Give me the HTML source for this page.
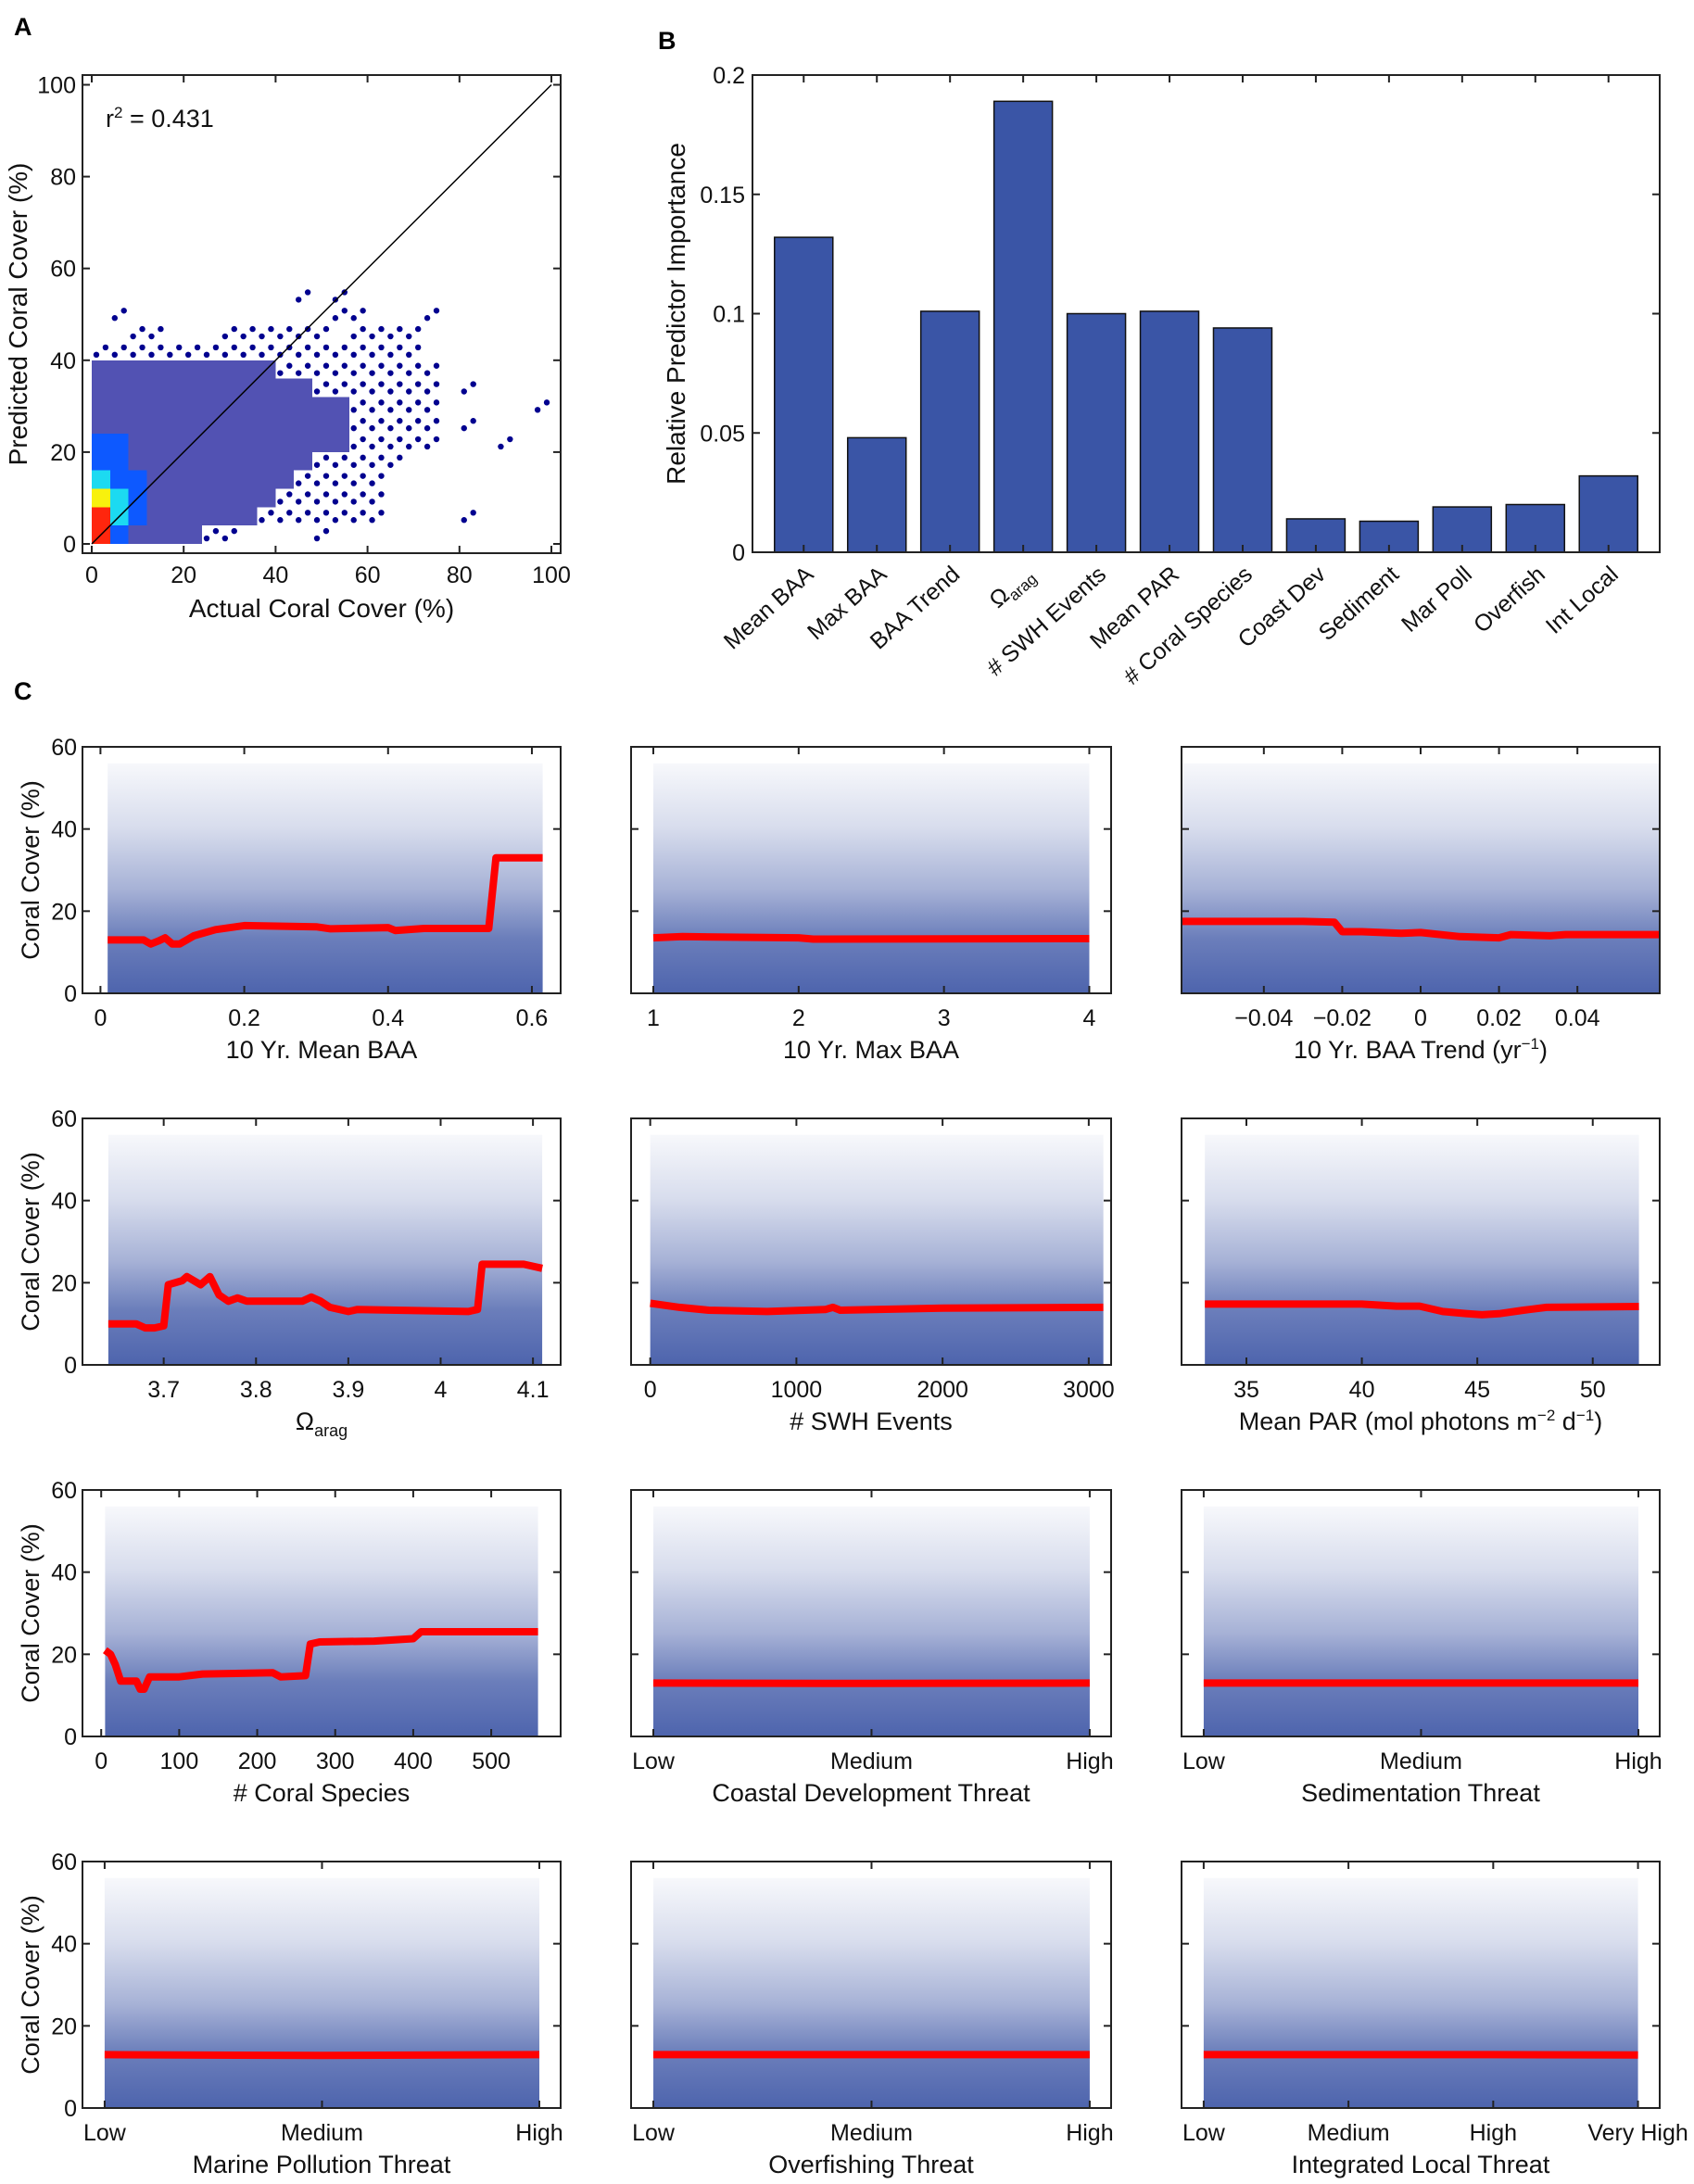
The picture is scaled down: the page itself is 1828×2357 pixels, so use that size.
<!DOCTYPE html>
<html><head><meta charset="utf-8">
<style>
html,body{margin:0;padding:0;background:#fff;}
svg{display:block;font-family:"Liberation Sans",Arial,sans-serif;}
</style></head>
<body>
<svg id="fig" width="1828" height="2357" viewBox="0 0 1828 2357" xmlns="http://www.w3.org/2000/svg">
<defs>
<linearGradient id="band" x1="0" y1="0" x2="0" y2="1">
<stop offset="0" stop-color="#3a53a4" stop-opacity="0.04"/>
<stop offset="0.28" stop-color="#3a53a4" stop-opacity="0.2"/>
<stop offset="0.55" stop-color="#3a53a4" stop-opacity="0.45"/>
<stop offset="0.76" stop-color="#3a53a4" stop-opacity="0.75"/>
<stop offset="1" stop-color="#3a53a4" stop-opacity="0.9"/>
</linearGradient>
</defs>
<text x="15" y="38" font-size="27" font-weight="bold">A</text>
<text x="710" y="53" font-size="27" font-weight="bold">B</text>
<text x="15" y="755" font-size="27" font-weight="bold">C</text>
<g id="gA"></g>
<g id="gB"></g>
<g id="gC"></g>
</svg>
<script>
// ---------- Panel A data: binned density (rows top y52-56 -> bottom y0-4, cols x 0..100 step 4)
const densityRows = [
"0000000000010100000000000",
"0100000000000110001000000",
"0011000111111011110000000",
"1111111111111111110000000",
"2222222222111111111000000",
"2222222222221111111010000",
"2222222222222211111000001",
"2222222222222211111010000",
"3322222222222211111000100",
"3322222222221111100000000",
"4332222222211111000000000",
"5432222222111111000000000",
"6432222221111111000010000",
"6322221100001000000000000"];
const scatterTicks = [0,20,40,60,80,100];
const r2Value = "0.431";

// ---------- Panel B data
const barCategories = ["Mean BAA","Max BAA","BAA Trend","Ωarag","# SWH Events","Mean PAR","# Coral Species","Coast Dev","Sediment","Mar Poll","Overfish","Int Local"];
const barValues = [0.132,0.048,0.101,0.189,0.100,0.101,0.094,0.014,0.013,0.019,0.020,0.032];
const barTicks = [0,0.05,0.1,0.15,0.2];
const barTickLabels = ["0","0.05","0.1","0.15","0.2"];

// ---------- Panel C data
const meanBaaX = [0.01,0.06,0.07,0.08,0.09,0.10,0.11,0.13,0.16,0.2,0.3,0.32,0.4,0.41,0.45,0.54,0.55,0.615];
const meanBaaY = [13,13,12,12.7,13.5,12,12,14,15.5,16.5,16.2,15.7,16,15.3,15.8,15.8,33,33];
const maxBaaX = [1,1.2,2,2.1,4];
const maxBaaY = [13.5,13.8,13.5,13.2,13.3];
const trendX = [-0.061,-0.03,-0.022,-0.02,-0.015,-0.005,0,0.01,0.02,0.023,0.033,0.037,0.061];
const trendY = [17.5,17.5,17.3,15,15,14.6,14.8,13.8,13.5,14.3,14,14.3,14.3];
const aragX = [3.64,3.67,3.68,3.69,3.7,3.705,3.72,3.725,3.74,3.75,3.76,3.77,3.78,3.79,3.85,3.86,3.87,3.88,3.9,3.91,4.03,4.04,4.045,4.09,4.11];
const aragY = [10,10,9,9,9.5,19.5,20.5,21.5,19.5,21.5,17,15.5,16.3,15.5,15.5,16.5,15.5,14,13,13.5,13,13.5,24.5,24.5,23.5];
const swhX = [0,200,400,800,1200,1250,1300,2000,3100];
const swhY = [15,14,13.3,13,13.5,14,13.3,13.8,14];
const parX = [33.2,40,41.5,42.5,43.5,44.5,45.2,46,47,48,52];
const parY = [14.8,14.8,14.3,14.3,13,12.5,12.2,12.5,13.3,14,14.2];
const speciesX = [5,12,18,25,45,50,55,62,100,130,220,230,262,268,280,350,400,410,560];
const speciesY = [21,20,17.5,13.5,13.5,11.5,11.5,14.5,14.5,15.2,15.5,14.5,14.8,22.5,23,23.2,23.8,25.5,25.5];
const threeLevels = ["Low","Medium","High"];
const fourLevels = ["Low","Medium","High","Very High"];
const coastX = [1,2,3], coastY = [13,12.9,13];
const sedX = [1,2,3], sedY = [13,13,13];
const pollX = [1,2,3], pollY = [13,12.8,13];
const fishX = [1,2,3], fishY = [13,13,13];
const localX = [1,2,3,4], localY = [13,13,13,12.9];
const coverTicks = [0,20,40,60];

const NS = "http://www.w3.org/2000/svg";
function mk(tag, attrs, parent, text){
  const e = document.createElementNS(NS, tag);
  for (const k in attrs) e.setAttribute(k, attrs[k]);
  if (text !== undefined) e.textContent = text;
  parent.appendChild(e);
  return e;
}
function lin(d0,d1,r0,r1){ return v => r0 + (v-d0)/(d1-d0)*(r1-r0); }

// ================= Panel A =================
(function(){
  const g = document.getElementById('gA');
  const L=89,R=605,T=81,B=597;
  const sx = lin(0,100,99,595), sy = lin(0,100,587,91.5);
  const colors = {2:"#00008f",3:"#0050ff",4:"#10d8f0",5:"#f8f000",6:"#ff1a00"};
  const nRows = densityRows.length;
  densityRows.forEach((row, ri) => {
    const y0 = (nRows-1-ri)*4;
    for (let c=0;c<row.length;c++){
      const v = +row[c];
      if (!v) continue;
      const x0 = c*4;
      if (v===1){
        [[1,1.2],[3,2.8]].forEach(o=>{
          const d = mk('circle',{cx:sx(x0+o[0]),cy:sy(y0+o[1]),r:3.2,fill:"#00008f"},g);
          
          
        });
      } else {
        const r = mk('rect',{x:sx(x0),y:sy(y0+4),width:sx(x0+4)-sx(x0),height:sy(y0)-sy(y0+4),fill:colors[v],'fill-opacity':v===2?0.68:0.95,'shape-rendering':'crispEdges'},g);
        
        
      }
    }
  });
  const ln = mk('line',{x1:sx(0),y1:sy(0),x2:sx(100),y2:sy(100),stroke:"#000","stroke-width":1.5},g);
  
  
  const box = mk('rect',{x:L,y:T,width:R-L,height:B-T,fill:"none",stroke:"#222","stroke-width":2},g);
  
  
  scatterTicks.forEach(t=>{
    mk('line',{x1:sx(t),x2:sx(t),y1:B,y2:B-8,stroke:"#222","stroke-width":2},g);
    mk('line',{x1:sx(t),x2:sx(t),y1:T,y2:T+8,stroke:"#222","stroke-width":2},g);
    mk('line',{x1:L,x2:L+8,y1:sy(t),y2:sy(t),stroke:"#222","stroke-width":2},g);
    mk('line',{x1:R,x2:R-8,y1:sy(t),y2:sy(t),stroke:"#222","stroke-width":2},g);
    const xt = mk('text',{x:sx(t),y:B+32,'font-size':25,'text-anchor':'middle',fill:"#111"},g,String(t));
    
    
    const yt = mk('text',{x:L-7,y:sy(t)+9,'font-size':25,'text-anchor':'end',fill:"#111"},g,String(t));
    
    
  });
  const xl = mk('text',{x:(L+R)/2,y:B+69,'font-size':28,'text-anchor':'middle',fill:"#111"},g,"Actual Coral Cover (%)");
  
  
  const yl = mk('text',{x:0,y:0,'font-size':28,'text-anchor':'middle',fill:"#111",transform:`translate(29,${(T+B)/2}) rotate(-90)`},g,"Predicted Coral Cover (%)");
  
  
  const r2 = mk('text',{x:114,y:137,'font-size':27,fill:"#111"},g);
  
  
  mk('tspan',{},r2,"r");
  mk('tspan',{dy:-10,'font-size':17},r2,"2");
  mk('tspan',{dy:10},r2," = "+r2Value);
})();

// ================= Panel B =================
(function(){
  const g = document.getElementById('gB');
  const L=812,R=1791,T=81,B=596;
  const sx = lin(0.3,12.7,L,R), sy = lin(0,0.2,B,T);
  const bw = 63;
  barValues.forEach((v,i)=>{
    const cx = sx(i+1);
    const r = mk('rect',{x:cx-bw/2,y:sy(v),width:bw,height:B-sy(v),fill:"#3a55a6",stroke:"#111","stroke-width":1.5},g);
    
    
  });
  mk('rect',{x:L,y:T,width:R-L,height:B-T,fill:"none",stroke:"#222","stroke-width":2},g);
  barCategories.forEach((c,i)=>{
    const cx = sx(i+1);
    mk('line',{x1:cx,x2:cx,y1:B,y2:B-8,stroke:"#222","stroke-width":2},g);
    mk('line',{x1:cx,x2:cx,y1:T,y2:T+8,stroke:"#222","stroke-width":2},g);
    const t = mk('text',{x:0,y:0,'font-size':25,'text-anchor':'end',fill:"#111",transform:`translate(${cx+12},${B+26}) rotate(-42)`},g);
    
    
    if (c==="Ωarag"){ mk('tspan',{},t,"Ω"); mk('tspan',{'font-size':17,dy:6},t,"arag"); }
    else t.textContent = c;
  });
  barTicks.forEach((v,i)=>{
    mk('line',{x1:L,x2:L+8,y1:sy(v),y2:sy(v),stroke:"#222","stroke-width":2},g);
    mk('line',{x1:R,x2:R-8,y1:sy(v),y2:sy(v),stroke:"#222","stroke-width":2},g);
    const t = mk('text',{x:L-8,y:sy(v)+9,'font-size':25,'text-anchor':'end',fill:"#111"},g,barTickLabels[i]);
    
    
  });
  const yl = mk('text',{x:0,y:0,'font-size':28,'text-anchor':'middle',fill:"#111",transform:`translate(739,${(T+B)/2}) rotate(-90)`},g,"Relative Predictor Importance");
  
  
})();

// ================= Panel C =================
(function(){
  const g = document.getElementById('gC');
  const cols = [[89,605],[681,1199],[1275,1791]];
  const rows = [[806,1072],[1207,1473],[1608,1874],[2009,2275]];
  const fmt = v => (v<0?"\u2212":"")+String(Math.abs(v));
  const panels = [
    {name:"mean-baa",xs:meanBaaX,ys:meanBaaY,xlim:[-0.025,0.64],band:[0.01,0.615],ticks:[0,0.2,0.4,0.6],title:"10 Yr. Mean BAA"},
    {name:"max-baa",xs:maxBaaX,ys:maxBaaY,xlim:[0.847,4.15],band:[1,4],ticks:[1,2,3,4],title:"10 Yr. Max BAA"},
    {name:"baa-trend",xs:trendX,ys:trendY,xlim:[-0.061,0.061],band:[-0.061,0.061],ticks:[-0.04,-0.02,0,0.02,0.04],title:"TREND"},
    {name:"omega-arag",xs:aragX,ys:aragY,xlim:[3.612,4.13],band:[3.64,4.11],ticks:[3.7,3.8,3.9,4,4.1],title:"OMEGA"},
    {name:"swh-events",xs:swhX,ys:swhY,xlim:[-131,3153],band:[0,3100],ticks:[0,1000,2000,3000],title:"# SWH Events"},
    {name:"mean-par",xs:parX,ys:parY,xlim:[32.19,52.9],band:[33.2,52],ticks:[35,40,45,50],title:"PAR"},
    {name:"coral-species",xs:speciesX,ys:speciesY,xlim:[-24,589],band:[5,560],ticks:[0,100,200,300,400,500],title:"# Coral Species"},
    {name:"coastal-dev",xs:coastX,ys:coastY,xlim:[0.898,3.098],band:[1,3],ticks:[1,2,3],labels:threeLevels,title:"Coastal Development Threat"},
    {name:"sedimentation",xs:sedX,ys:sedY,xlim:[0.898,3.098],band:[1,3],ticks:[1,2,3],labels:threeLevels,title:"Sedimentation Threat"},
    {name:"marine-pollution",xs:pollX,ys:pollY,xlim:[0.898,3.098],band:[1,3],ticks:[1,2,3],labels:threeLevels,title:"Marine Pollution Threat"},
    {name:"overfishing",xs:fishX,ys:fishY,xlim:[0.898,3.098],band:[1,3],ticks:[1,2,3],labels:threeLevels,title:"Overfishing Threat"},
    {name:"integrated-local",xs:localX,ys:localY,xlim:[0.847,4.15],band:[1,4],ticks:[1,2,3,4],labels:fourLevels,title:"Integrated Local Threat"}
  ];
  panels.forEach((p,idx)=>{
    const [L,R] = cols[idx%3], [T,B] = rows[Math.floor(idx/3)];
    const sub = mk('g',{},g);
    
    
    const sx = lin(p.xlim[0],p.xlim[1],L,R), sy = lin(0,60,B,T);
    const band = mk('rect',{x:sx(p.band[0]),y:sy(56),width:sx(p.band[1])-sx(p.band[0]),height:sy(0)-sy(56),fill:"url(#band)"},sub);
    
    
    const pts = p.xs.map((x,i)=>sx(x).toFixed(1)+","+sy(p.ys[i]).toFixed(1)).join(" ");
    const pl = mk('polyline',{points:pts,fill:"none",stroke:"#ff0000","stroke-width":8,"stroke-linejoin":"round"},sub);
    
    
    mk('rect',{x:L,y:T,width:R-L,height:B-T,fill:"none",stroke:"#222","stroke-width":2},sub);
    p.ticks.forEach((t,i)=>{
      mk('line',{x1:sx(t),x2:sx(t),y1:B,y2:B-8,stroke:"#222","stroke-width":2},sub);
      mk('line',{x1:sx(t),x2:sx(t),y1:T,y2:T+8,stroke:"#222","stroke-width":2},sub);
      const lbl = p.labels ? p.labels[i] : fmt(t);
      const tx = mk('text',{x:sx(t),y:B+35,'font-size':25,'text-anchor':'middle',fill:"#111"},sub,lbl);
      
      
    });
    coverTicks.forEach(t=>{
      mk('line',{x1:L,x2:L+8,y1:sy(t),y2:sy(t),stroke:"#222","stroke-width":2},sub);
      mk('line',{x1:R,x2:R-8,y1:sy(t),y2:sy(t),stroke:"#222","stroke-width":2},sub);
      if (idx%3===0){
        const yt = mk('text',{x:L-6,y:sy(t)+9,'font-size':25,'text-anchor':'end',fill:"#111"},sub,String(t));
        
        
      }
    });
    if (idx%3===0){
      const yl = mk('text',{x:0,y:0,'font-size':27,'text-anchor':'middle',fill:"#111",transform:`translate(42,${(T+B)/2}) rotate(-90)`},sub,"Coral Cover (%)");
      
      
    }
    const xl = mk('text',{x:(L+R)/2,y:B+70,'font-size':27,'text-anchor':'middle',fill:"#111"},sub);
    
    
    if (p.title==="TREND"){ mk('tspan',{},xl,"10 Yr. BAA Trend (yr"); mk('tspan',{dy:-10,'font-size':17},xl,"\u22121"); mk('tspan',{dy:10},xl,")"); }
    else if (p.title==="OMEGA"){ mk('tspan',{},xl,"Ω"); mk('tspan',{dy:7,'font-size':18},xl,"arag"); }
    else if (p.title==="PAR"){ mk('tspan',{},xl,"Mean PAR (mol photons m"); mk('tspan',{dy:-10,'font-size':17},xl,"\u22122"); mk('tspan',{dy:10},xl," d"); mk('tspan',{dy:-10,'font-size':17},xl,"\u22121"); mk('tspan',{dy:10},xl,")"); }
    else xl.textContent = p.title;
  });
})();
</script>
</body></html>
